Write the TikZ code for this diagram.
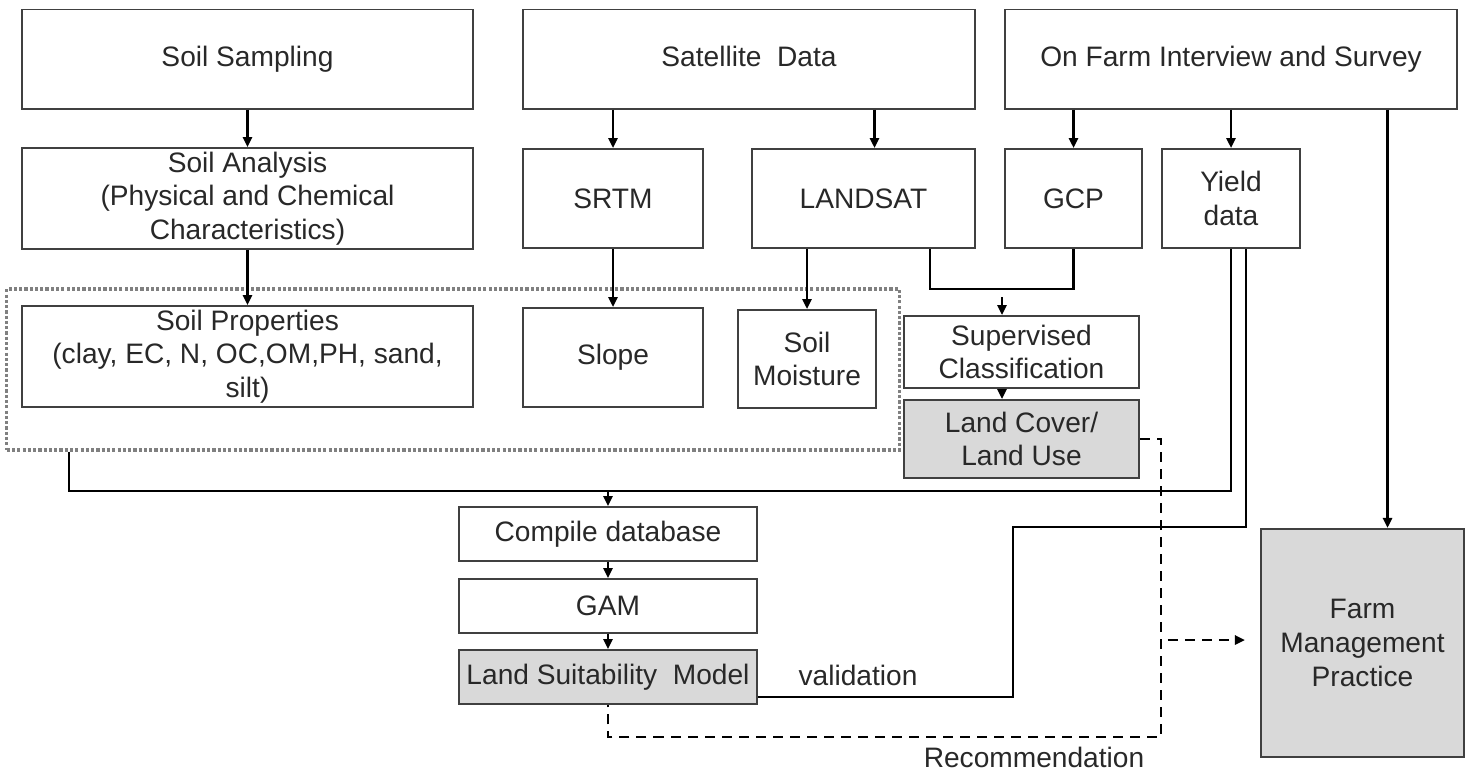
\documentclass[tikz,border=0pt]{standalone}
\usepackage{fontspec}
\setmainfont{Liberation Sans}
\usetikzlibrary{arrows.meta,positioning,calc}

\definecolor{boxline}{RGB}{64,64,64}
\definecolor{boxfill}{RGB}{217,217,217}
\definecolor{txt}{RGB}{40,40,40}

\begin{document}
\begin{tikzpicture}[
  x=0.01cm, y=-0.01cm,
  font=\fontsize{8}{9.6}\selectfont, text=txt,
  box/.style={draw=boxline, line width=0.55pt, minimum height=0.99cm,
              align=center, inner sep=1pt},
  graybox/.style={box, fill=boxfill},
  link/.style={line width=0.7pt},
  arr/.style={link, -{Triangle[length=1mm,width=0.9mm]}},
  dashln/.style={link, dash pattern=on 1mm off 0.7mm},
  >=Stealth
]
\useasboundingbox (0,0) rectangle (1478,775);

%% --- dotted group ---
\node[draw=gray, line width=0.9pt, dash pattern=on 0.9pt off 0.6pt,
      minimum width=8.92cm, minimum height=1.61cm] (grp) at (453,369.5) {};

%% --- top row ---
\node[box, minimum width=4.51cm] (samp) at (247.5,59) {Soil Sampling};
\node[box, minimum width=4.52cm] (sat) at (749,59)
  {Satellite\ \ Data\vphantom{g}};
\node[box, minimum width=4.52cm] (survey) at (1231,59)
  {On Farm Interview and Survey};

%% --- second row ---
\node[box, minimum width=4.51cm] (anal) at (247.5,198.5)
  {Soil Analysis\\(Physical and Chemical\\Characteristics)};
\node[box, minimum width=1.80cm] (srtm) at (613,198.5) {SRTM};
\node[box, minimum width=2.23cm] (lsat) at (863.5,198.5) {LANDSAT};
\node[box, minimum width=1.37cm] (gcp) at (1073.5,198.5) {GCP};
\node[box, minimum width=1.38cm] (yield) at (1231,198.5) {Yield\\data};

%% --- third row ---
\node[box, minimum width=4.51cm] (prop) at (247.5,356.5)
  {Soil Properties\\(clay, EC, N, OC,OM,PH, sand,\\silt)};
\node[box, minimum width=1.80cm] (slope) at (613,357.5) {Slope};
\node[box, minimum width=1.38cm, minimum height=0.98cm] (moist) at (807,359)
  {Soil\\Moisture};
\node[box, minimum width=2.35cm, minimum height=0.72cm] (sup) at (1021.5,352)
  {Supervised\\Classification};
\node[graybox, minimum width=2.35cm, minimum height=0.78cm] (lcov)
  at (1021.5,439) {Land Cover/\\Land Use};

%% --- model chain ---
\node[box, minimum width=2.98cm, minimum height=0.54cm] (comp) at (608,534)
  {Compile database};
\node[box, minimum width=2.98cm, minimum height=0.54cm] (gam) at (608,606)
  {GAM};
\node[graybox, minimum width=2.98cm, minimum height=0.54cm] (lsm) at (608,677)
  {Land Suitability\ \ Model};
\node[graybox, minimum width=2.03cm, minimum height=2.28cm] (fmp)
  at (1362.5,643) {Farm\\Management\\Practice};

%% --- arrows from the top row ---
\draw[arr] (samp) -- (anal);
\draw[arr] (anal) -- (prop);
\draw[arr] (srtm.north |- sat.south) -- (srtm.north);
\coordinate (lsatin) at ($(lsat.north)+(11,0)$);
\draw[arr] (lsatin |- sat.south) -- (lsatin);
\draw[arr] (gcp.north |- survey.south) -- (gcp.north);
\draw[arr] (yield.north |- survey.south) -- (yield.north);
\coordinate (fmpin) at ($(fmp.north)+(25,0)$);
\draw[arr] (fmpin |- survey.south) -- (fmpin);

%% --- satellite branch ---
\draw[arr] (srtm) -- (slope);
\draw[arr] (lsat.south -| moist.north) -- (moist.north);
\coordinate (jn) at (1002,289);
\draw[link] ($(lsat.south east)+(-46,0)$) |- (jn) -| (gcp.south);
\draw[arr] ($(jn)+(0,8)$) -- (jn |- sup.north);
\draw[arr] (jn |- sup.south) -- (jn |- lcov.north);

%% --- into the database ---
\coordinate (bus) at (608,491);
\draw[link] ($(grp.south west)+(64,0)$) |- (bus) -| (yield.south);
\draw[arr] (bus) -- (comp.north);
\draw[arr] (comp) -- (gam);
\draw[arr] (gam) -- (lsm);

%% --- validation ---
\coordinate (vbend) at (1013,527);
\draw[link] ($(lsm.south east)+(0,-8)$) -| (vbend) -| ($(yield.south)+(15,0)$);
\node (val) at (858,675) {validation};

%% --- recommendation ---
\coordinate (rbend) at (1161,737);
\draw[dashln] (lcov.east) -| (rbend) -| (lsm.south);
\node (rec) at (1034,757) {Recommendation};
\draw[dashln, -{Triangle[length=1mm,width=0.9mm]}]
  ($(fmp.west)+(-92,-3)$) -- ($(fmp.west)+(-15,-3)$);
\end{tikzpicture}
\end{document}
